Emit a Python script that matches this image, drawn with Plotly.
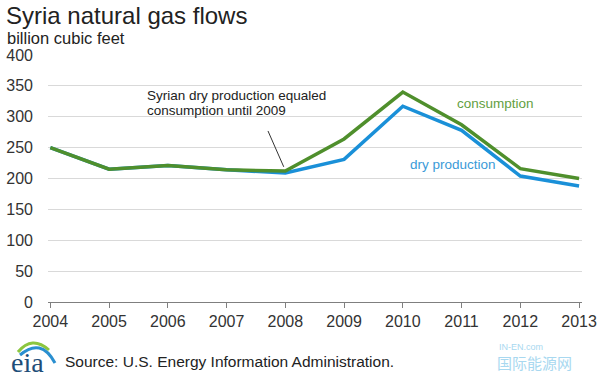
import plotly.graph_objects as go

years = [2004, 2005, 2006, 2007, 2008, 2009, 2010, 2011, 2012, 2013]
consumption = [250, 215, 221, 214, 212, 264, 340, 287, 216, 200]
dry_production = [250, 215, 221, 214, 209, 231, 317, 278, 204, 188]
y_ticks = [0, 50, 100, 150, 200, 250, 300, 350, 400]

GREEN = "#4f8f2c"
BLUE = "#1a90d8"
FONT = "Liberation Sans, Arial, sans-serif"

L, R, T, B = 48, 18, 55, 76
PW, PH = 600 - L - R, 378 - T - B


def px(x):
    return (x - L) / PW


def py(y):
    return (378 - B - y) / PH


fig = go.Figure()
fig.add_trace(go.Scatter(x=years, y=dry_production, mode="lines",
                         line=dict(color=BLUE, width=3.5), name="dry production"))
fig.add_trace(go.Scatter(x=years, y=consumption, mode="lines",
                         line=dict(color=GREEN, width=3.5), name="consumption"))

fig.update_layout(
    width=600, height=378,
    margin=dict(l=L, r=R, t=T, b=B, autoexpand=False),
    paper_bgcolor="white", plot_bgcolor="white",
    showlegend=False,
    font=dict(family=FONT, color="#333333", size=16),
    xaxis=dict(range=[2003.96, 2013.05], tickmode="array", tickvals=years,
               ticktext=[str(y) for y in years], showgrid=False, zeroline=False,
               showline=True, linecolor="#7f7f7f", linewidth=1, automargin=False,
               ticks="outside", ticklen=5, tickcolor="#7f7f7f",
               tickfont=dict(size=16, color="#333333")),
    yaxis=dict(range=[0, 400], tickvals=y_ticks, showgrid=True, gridcolor="#d9d9d9",
               gridwidth=1, zeroline=False, showline=False, ticks="", automargin=False,
               ticklabelstandoff=14, tickfont=dict(size=16, color="#333333")),
)

fig.add_annotation(text="Syria natural gas flows", xref="paper", yref="paper",
                   x=px(4), y=py(15), xanchor="left", yanchor="middle", showarrow=False,
                   font=dict(size=24, color="#222222", family=FONT))
fig.add_annotation(text="billion cubic feet", xref="paper", yref="paper",
                   x=px(5), y=py(38), xanchor="left", yanchor="middle", showarrow=False,
                   font=dict(size=16.5, color="#222222", family=FONT))

# callout leader line
fig.add_annotation(text="", x=2008, y=213, ax=267 - 285, ay=129 - 170, xref="x", yref="y",
                   axref="pixel", ayref="pixel", showarrow=True, arrowhead=0,
                   arrowwidth=1, arrowcolor="#333333", standoff=4)
fig.add_annotation(text="Syrian dry production equaled",
                   xref="paper", yref="paper", x=px(145), y=py(95),
                   xanchor="left", yanchor="middle", showarrow=False, align="left",
                   font=dict(size=13.5, color="#222222", family=FONT))
fig.add_annotation(text="consumption until 2009",
                   xref="paper", yref="paper", x=px(145), y=py(110),
                   xanchor="left", yanchor="middle", showarrow=False, align="left",
                   font=dict(size=13.5, color="#222222", family=FONT))

fig.add_annotation(text="consumption", x=2011.57, y=322, xref="x", yref="y",
                   showarrow=False, font=dict(size=13.5, color="#63a03f", family=FONT))
fig.add_annotation(text="dry production", x=2010.85, y=222, xref="x", yref="y",
                   showarrow=False, font=dict(size=13.5, color="#3a9ad8", family=FONT))

# footer source
fig.add_annotation(text="Source: U.S. Energy Information Administration.",
                   xref="paper", yref="paper", x=px(63), y=py(361),
                   xanchor="left", yanchor="middle", showarrow=False,
                   font=dict(size=15.5, color="#222222", family=FONT))
# eia logo text
fig.add_annotation(text="eia", xref="paper", yref="paper", x=px(9),
                   y=py(362), xanchor="left", yanchor="middle", showarrow=False,
                   font=dict(size=28, color="#1f4e79", family="Liberation Serif, serif"))
# eia arcs
fig.add_shape(type="path", xref="paper", yref="paper",
              path="M %f %f Q %f %f %f %f" % (px(18), py(352), px(32), py(335), px(49), py(350)),
              line=dict(color="#8cc63f", width=3))
fig.add_shape(type="path", xref="paper", yref="paper",
              path="M %f %f Q %f %f %f %f" % (px(20), py(355), px(41), py(337), px(55), py(363)),
              line=dict(color="#2a8fd0", width=3))

# watermark
fig.add_annotation(text="IN-EN.com", xref="paper", yref="paper", x=px(497),
                   y=py(347), xanchor="left", yanchor="middle", showarrow=False,
                   font=dict(size=9, color="#a8d8f0", family=FONT))
fig.add_annotation(text="国际能源网", xref="paper", yref="paper", x=px(495),
                   y=py(362), xanchor="left", yanchor="middle", showarrow=False,
                   font=dict(size=15, color="#a8d8f0", family="Noto Sans CJK SC"))

fig.write_html("out.html", config={"displayModeBar": False},
               post_script="document.body.style.margin='0';")
